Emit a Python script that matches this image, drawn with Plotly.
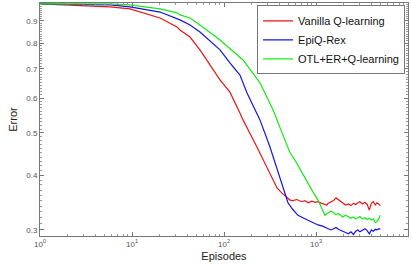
import plotly.graph_objects as go
import numpy as np

# Vanilla Q-learning
red_x = [1, 2.72, 5.77, 9.51, 20.2, 30.9, 33.2, 42.7, 54.8, 90.5, 116, 149, 161, 228, 293,
         341, 377, 427, 522, 560, 620, 700, 760, 820, 900, 980, 1051, 1150, 1250, 1318,
         1350, 1450, 1550, 1650, 1750, 1850, 1950, 2100, 2250, 2400, 2550, 2700, 2850, 3000,
         3200, 3400, 3600, 3800, 4000, 4200, 4400, 4600, 4800, 5000]
red_y = [0.984, 0.974, 0.969, 0.959, 0.914, 0.872, 0.858, 0.827, 0.773, 0.660, 0.619, 0.555,
         0.535, 0.464, 0.418, 0.390, 0.374, 0.364, 0.351, 0.350, 0.352, 0.348, 0.350, 0.346,
         0.349, 0.347, 0.348, 0.345, 0.343, 0.342,
         0.345, 0.347, 0.350, 0.355, 0.352, 0.349, 0.346, 0.342, 0.344, 0.341, 0.345, 0.343,
         0.346, 0.348, 0.344, 0.347, 0.343, 0.333, 0.345, 0.348, 0.342, 0.346, 0.344, 0.341]

# EpiQ-Rex
blue_x = [1, 2.72, 5.77, 9.51, 20.2, 33.2, 42.7, 54.8, 90.5, 116, 149, 178, 246, 316, 406,
          460, 496, 560, 637, 720, 818, 930, 1051, 1180, 1318,
          1450, 1550, 1650, 1750, 1850, 1950, 2100, 2250, 2400, 2550, 2700, 2850, 3000, 3200,
          3400, 3600, 3800, 4000, 4200, 4400, 4600, 4800, 5000]
blue_y = [0.984, 0.979, 0.979, 0.969, 0.943, 0.905, 0.881, 0.849, 0.773, 0.722, 0.677, 0.616,
          0.535, 0.464, 0.394, 0.366, 0.346, 0.334, 0.324, 0.320, 0.316, 0.311, 0.308, 0.306,
          0.303,
          0.300, 0.302, 0.304, 0.301, 0.299, 0.298, 0.296, 0.294, 0.297, 0.293, 0.298, 0.300,
          0.297, 0.299, 0.302, 0.299, 0.294, 0.300, 0.298, 0.301, 0.300, 0.302, 0.301]

# OTL+ER+Q-learning
green_x = [1, 2.72, 5.77, 9.51, 20.2, 30.9, 33.2, 42.7, 54.8, 90.5, 149, 161, 246, 341, 460,
           522, 591, 700, 818, 930, 1051, 1253, 1350,
           1450, 1550, 1650, 1750, 1850, 1950, 2100, 2250, 2400, 2550, 2700, 2850, 3000, 3200,
           3400, 3600, 3800, 4000, 4200, 4400, 4600, 4800, 5000]
green_y = [0.984, 0.984, 0.984, 0.979, 0.959, 0.939, 0.929, 0.914, 0.881, 0.814, 0.745, 0.733,
           0.650, 0.564, 0.481, 0.450, 0.433, 0.406, 0.384, 0.366, 0.351, 0.324, 0.328,
           0.331, 0.329, 0.325, 0.327, 0.323, 0.321, 0.324, 0.322, 0.319, 0.321, 0.318, 0.320,
           0.322, 0.318, 0.320, 0.317, 0.319, 0.316, 0.318, 0.312, 0.313, 0.318, 0.324]

series_names = ["Vanilla Q-learning", "EpiQ-Rex", "OTL+ER+Q-learning"]

x_ticks = [1, 10, 100, 1000, 10000]
x_ticktext = ["10<sup>0</sup>", "10<sup>1</sup>", "10<sup>2</sup>", "10<sup>3</sup>", "10<sup>4</sup>"]
y_ticks = [0.3, 0.4, 0.5, 0.6, 0.7, 0.8, 0.9]
y_ticktext = ["0.3", "0.4", "0.5", "0.6", "0.7", "0.8", "0.9"]

colors = ["rgb(235,20,20)", "rgb(20,20,230)", "rgb(20,235,20)"]

fig = go.Figure()
for xs, ys, name, c in zip([red_x, blue_x, green_x], [red_y, blue_y, green_y], series_names, colors):
    fig.add_trace(go.Scatter(x=xs, y=ys, mode="lines", name=name,
                             line=dict(color=c, width=1.2)))

x_minor = [m * 10**d for d in range(0, 4) for m in range(2, 10)]
y_minor = [0.29 + 0.01 * i for i in range(0, 71)]

fig.update_layout(
    width=412, height=269,
    margin=dict(l=40, r=4, t=3, b=33),
    paper_bgcolor="white", plot_bgcolor="white",
    font=dict(family="Liberation Sans, Arial, sans-serif", color="#555"),
    showlegend=True,
    legend=dict(x=0.992, y=0.99, xanchor="right", yanchor="top",
                bgcolor="white", bordercolor="#777", borderwidth=1,
                font=dict(size=11, color="#111"), tracegroupgap=0,
                itemwidth=30),
    xaxis=dict(type="log", range=[0, 4], tickmode="array", tickvals=x_ticks,
               ticktext=x_ticktext, ticks="inside", ticklen=4, tickcolor="#777",
               showline=True, linecolor="#777", linewidth=1, mirror="allticks",
               showgrid=False, zeroline=False,
               tickfont=dict(size=8, color="#555"),
               minor=dict(tickvals=x_minor, ticks="inside", ticklen=2, tickcolor="#999"),
               title=dict(text="Episodes", font=dict(size=11, color="#222"), standoff=4)),
    yaxis=dict(type="log", range=[np.log10(0.2906), np.log10(0.989)], tickmode="array",
               tickvals=y_ticks, ticktext=y_ticktext, ticks="inside", ticklen=4,
               tickcolor="#777", showline=True, linecolor="#777", linewidth=1,
               mirror="allticks", showgrid=False, zeroline=False,
               tickfont=dict(size=8, color="#555"),
               minor=dict(tickvals=y_minor, ticks="inside", ticklen=2, tickcolor="#999"),
               title=dict(text="Error", font=dict(size=11, color="#222"), standoff=6)),
)

fig.write_html("out.html", config={"displayModeBar": False},
               post_script="document.body.style.margin='0';document.body.style.overflow='hidden';")
